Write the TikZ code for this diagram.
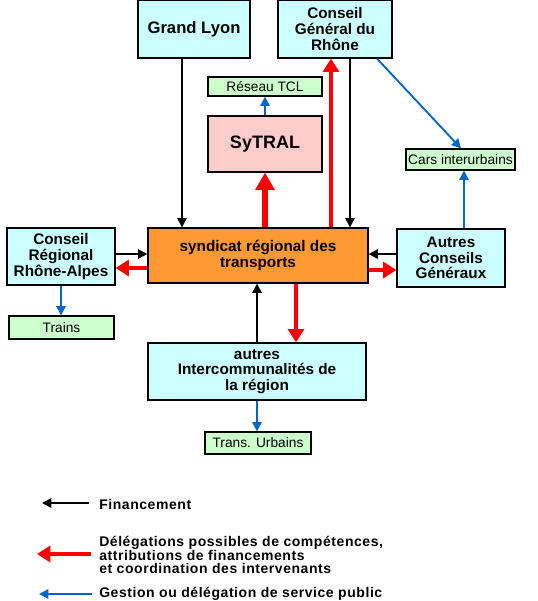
\documentclass[tikz,border=0pt]{standalone}
\usepackage{fontspec}
\setmainfont{Liberation Sans}
\usetikzlibrary{arrows.meta}
\definecolor{cyanbox}{HTML}{CCFFFF}
\definecolor{greenbox}{HTML}{CCFFCC}
\definecolor{pinkbox}{HTML}{FFCCCC}
\definecolor{orangebox}{HTML}{FF9933}
\definecolor{redarr}{HTML}{FF0000}
\definecolor{bluearr}{HTML}{0066CC}
\begin{document}
\begin{tikzpicture}[x=0.75pt,y=-0.75pt,
  sz/.style 2 args={minimum width=#1*0.75pt, minimum height=#2*0.75pt},
  base/.style={draw=black, line width=0.9pt, inner sep=0pt, align=center},
  bigbox/.style={base, fill=cyanbox, font=\bfseries\fontsize{11.5}{11.8}\selectfont},
  smallbox/.style={base, fill=greenbox, font=\fontsize{10.3}{11}\selectfont},
  blk/.style={draw=black, line width=1.4pt, -{Triangle[length=7pt,width=7pt]}},
  redA/.style={draw=redarr, line width=3.6pt, -{Triangle[length=10pt,width=12pt]}},
  blu/.style={draw=bluearr, line width=1.4pt, -{Triangle[length=7pt,width=7pt]}},
  legtxt/.style={anchor=west, inner sep=0pt, align=left, font=\bfseries\fontsize{10.5}{10.2}\selectfont\addfontfeature{LetterSpace=4}}]
\useasboundingbox (0,0) rectangle (538,601);
% boxes
\node[bigbox, sz={112}{58}, font=\bfseries\fontsize{12.5}{14}\selectfont] (gl) at (194,29) {Grand Lyon};
\node[bigbox, sz={114}{58}] (cg) at (335,29) {Conseil\\Général du\\Rhône};
\node[smallbox, sz={114}{19}] (tcl) at (265,86.5) {Réseau TCL};
\node[base, fill=pinkbox, sz={114}{56}, font=\bfseries\fontsize{13.5}{14}\selectfont] (sy) at (265,144) {SyTRAL};
\node[smallbox, sz={109}{21}] (cars) at (460.5,159.5) {Cars interurbains};
\node[bigbox, sz={108}{57}] (cr) at (61,256.5) {Conseil\\Régional\\Rhône-Alpes};
\node[base, fill=orangebox, sz={220}{55}, font=\bfseries\fontsize{11.5}{11.8}\selectfont] (sr) at (258,255.5) {syndicat régional des\\transports};
\node[bigbox, sz={108}{58}] (ac) at (451,258) {Autres\\Conseils\\Généraux};
\node[smallbox, sz={105}{23}] (tr) at (61.5,327.5) {Trains};
\node[bigbox, sz={218}{57}] (ic) at (257,371.5) {autres\\Intercommunalités de\\la région};
\node[smallbox, sz={106}{22}] (tu) at (258,443) {Trans. Urbains};
% helper coordinates
\coordinate (x182) at (182,0);
\coordinate (x265) at (265,0);
\coordinate (x331) at (331,0);
\coordinate (x350) at (350,0);
\coordinate (x377) at (377,0);
\coordinate (x461) at (461,0);
\coordinate (x464) at (464,0);
\coordinate (x61) at (61,0);
\coordinate (x257) at (257,0);
\coordinate (x296) at (296,0);
\coordinate (y254) at (0,254);
\coordinate (y268) at (0,268);
\coordinate (y270) at (0,270);
% connectors
\draw[blk] (gl.south -| x182) -- (sr.north -| x182);
\draw[blk] (cg.south -| x350) -- (sr.north -| x350);
\draw[redA] (sr.north -| x331) -- (cg.south -| x331);
\draw[redA, line width=4.2pt, -{Triangle[length=13pt,width=14pt]}] (sr.north -| x265) -- (sy.south -| x265);
\draw[blu] (sy.north -| x265) -- (tcl.south -| x265);
\draw[blu] (cg.south -| x377) -- (cars.north -| x461);
\draw[blu] (ac.north -| x464) -- (cars.south -| x464);
\draw[blk] (cr.east |- y254) -- (sr.west |- y254);
\draw[redA] (sr.west |- y268) -- (cr.east |- y268);
\draw[blk] (ac.west |- y254) -- (sr.east |- y254);
\draw[redA] (sr.east |- y270) -- (ac.west |- y270);
\draw[blu] (cr.south -| x61) -- (tr.north -| x61);
\draw[blk] (ic.north -| x257) -- (sr.south -| x257);
\draw[redA] (sr.south -| x296) -- (ic.north -| x296);
\draw[blu] (ic.south -| x257) -- (tu.north -| x257);
% legend
\coordinate (l1a) at (89,503); \coordinate (l1b) at (42,503);
\coordinate (l2a) at (91,554); \coordinate (l2b) at (37,554);
\coordinate (l3a) at (92,594); \coordinate (l3b) at (39,594);
\draw[blk] (l1a) -- (l1b);
\draw[redA] (l2a) -- (l2b);
\draw[blu] (l3a) -- (l3b);
\node[legtxt] (t1) at (99,504) {Financement};
\node[legtxt] (t2) at (99,555) {Délégations possibles de compétences,\\attributions de financements\\et coordination des intervenants};
\node[legtxt] (t3) at (99,594) {Gestion ou délégation de service public};
\end{tikzpicture}
\end{document}
